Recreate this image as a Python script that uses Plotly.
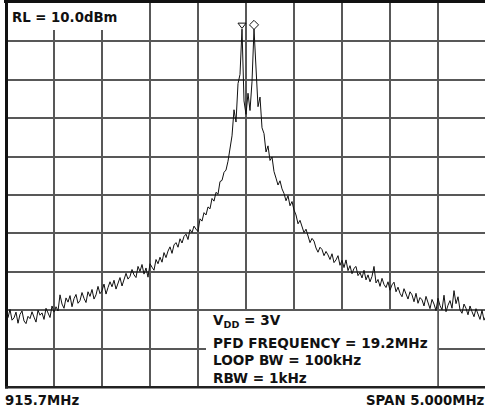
import numpy as np
import plotly.graph_objects as go

# Analyzer settings
CENTER_MHZ = 915.7
SPAN_MHZ = 5.0
REF_LEVEL_DBM = 10.0
DB_PER_DIV = 10
N_DIV = 10

# Swept trace, dBm, one reading per sweep point across the span
level_dbm = [
    # lower skirt / noise floor
    -70.4, -71.9, -69.8, -72.6, -72.0, -70.5, -73.4, -71.1, -70.2, -72.8,
    -73.5, -71.6, -72.2, -70.4, -71.8, -73.1, -70.0, -71.3, -70.7, -72.4,
    -69.5, -70.8, -71.9, -68.9, -70.5,
    -69.1, -70.2, -66.0, -68.4, -69.5, -66.8, -67.9, -66.2, -69.1, -67.0,
    -65.9, -68.2, -67.5, -65.4, -66.9, -68.0, -65.2, -66.4, -64.6, -67.1,
    -66.0, -63.8, -65.7, -64.9, -63.2, -65.8, -64.1, -62.6, -63.9, -62.2,
    -64.5, -62.9, -61.5, -63.7, -62.0, -60.4, -61.9,
    -61.2, -59.4, -60.8, -61.5, -58.6, -59.9, -58.1, -60.6, -59.0, -61.4,
    -57.9, -58.8, -59.6, -56.8, -57.9, -56.2, -57.5, -55.0, -56.3, -54.6,
    -53.5, -55.2, -53.0, -52.4, -53.6, -51.4, -52.5, -50.8, -50.2, -51.6,
    -49.0, -49.8, -48.1, -48.9, -49.5,
    # rising skirt
    -46.2, -46.8, -44.6, -45.2, -43.1, -43.6, -40.9, -41.6, -39.3, -39.8,
    -36.5, -36.2, -34.1, -33.5, -31.2, -28.4, -24.6, -17.8, -21.0, -11.0,
    -8.6,
    # carrier region
    3.2, -15.5, -19.0, -13.5, -18.0, -10.5, 3.2, -8.2,
    # falling skirt
    -17.0, -14.5, -22.5, -24.0, -28.8, -27.2, -31.0, -30.1, -33.9, -35.6,
    -37.4, -36.3, -38.4, -39.6, -41.5, -40.2, -42.8, -41.7, -43.9, -45.2,
    -47.5, -46.6, -48.2, -49.8, -48.9, -50.9, -52.4, -51.3, -52.0, -53.8,
    -54.9, -53.6, -54.2, -55.8, -54.7,
    -55.6, -56.8, -55.3, -57.6, -56.9, -55.8, -58.3, -57.0, -58.9, -56.9,
    -59.7, -58.4, -60.5, -59.1, -58.6, -61.0, -60.2, -61.6, -59.6, -62.1,
    -60.8, -62.6, -61.2, -58.6, -62.9, -62.0, -63.8, -61.7, -63.3, -64.1,
    -62.6, -64.8, -63.4, -62.7, -65.2,
    # upper noise floor
    -64.0, -65.6, -66.5, -64.4, -65.9, -67.1, -65.2, -66.0, -67.8, -65.6,
    -68.2, -66.7, -67.3, -68.9, -66.4, -67.8, -69.6, -67.2, -68.4, -70.1,
    -66.9, -68.8, -69.9, -66.1, -70.4, -68.7, -67.5, -69.5, -64.9, -68.3,
    -66.5, -69.9, -70.8, -68.4, -69.5, -71.2, -68.9, -70.4, -71.7, -69.6,
    -71.0, -72.4, -70.0, -72.6, -71.5,
]

# Marker positions (sweep point index) and their glyphs
marker_index = [118, 124]
marker_symbol = ["triangle-down-open", "diamond-open"]

info_lines = [
    "V<sub>DD</sub> = 3V",
    "PFD FREQUENCY = 19.2MHz",
    "LOOP BW = 100kHz",
    "RBW = 1kHz",
]

start_mhz = CENTER_MHZ - SPAN_MHZ / 2
step_mhz = SPAN_MHZ / (len(level_dbm) - 1)
freq_mhz = start_mhz + step_mhz * np.arange(len(level_dbm))

# Page geometry (pixels)
W, H = 485, 412
L, T, B = 6, 3, 25
PW = W - L          # graticule runs off the right edge of the page
PH = H - T - B
GRID_PX = 480       # full 10-division graticule width


def px_x(px):
    return (px - L) / PW


def px_y(py):
    return (H - B - py) / PH


fig = go.Figure()

fig.add_trace(go.Scatter(
    x=freq_mhz, y=level_dbm, mode="lines",
    line=dict(color="#111111", width=1),
    hoverinfo="skip", showlegend=False,
))

mk_x = [freq_mhz[i] for i in marker_index]
mk_y = [level_dbm[i] + 1.1 for i in marker_index]
fig.add_trace(go.Scatter(
    x=mk_x, y=mk_y, mode="markers",
    marker=dict(symbol=marker_symbol, size=7, color="#111111",
                line=dict(width=1, color="#111111")),
    hoverinfo="skip", showlegend=False,
))

grid = dict(showgrid=True, gridcolor="#585858", gridwidth=1.6,
            zeroline=False, showline=False, showticklabels=False, ticks="")

fig.update_xaxes(range=[start_mhz, start_mhz + SPAN_MHZ * PW / GRID_PX],
                 tick0=start_mhz, dtick=SPAN_MHZ / N_DIV, **grid)
fig.update_yaxes(range=[REF_LEVEL_DBM - DB_PER_DIV * N_DIV, REF_LEVEL_DBM],
                 dtick=DB_PER_DIV, **grid)

shapes = [
    # label panels
    dict(type="rect", xref="paper", yref="paper",
         x0=px_x(6), x1=px_x(149), y0=px_y(30), y1=px_y(3),
         fillcolor="white", line=dict(width=0), layer="above"),
    dict(type="rect", xref="paper", yref="paper",
         x0=px_x(206), x1=px_x(437.2), y0=px_y(386), y1=px_y(311),
         fillcolor="white", line=dict(width=0), layer="above"),
    # graticule frame
    dict(type="line", xref="paper", yref="paper",
         x0=px_x(4), x1=px_x(W), y0=px_y(1.5), y1=px_y(1.5),
         line=dict(color="#111111", width=3), layer="above"),
    dict(type="line", xref="paper", yref="paper",
         x0=px_x(6.5), x1=px_x(6.5), y0=px_y(388.5), y1=px_y(0),
         line=dict(color="#111111", width=3), layer="above"),
    dict(type="line", xref="paper", yref="paper",
         x0=px_x(5), x1=px_x(W), y0=px_y(387.2), y1=px_y(387.2),
         line=dict(color="#222222", width=2.5), layer="above"),
]

FONT = "DejaVu Sans"
txt = dict(family=FONT, size=13.3, color="#111111")

annotations = [
    dict(text=f"<b>RL = {REF_LEVEL_DBM:.1f}dBm</b>", x=px_x(10), y=px_y(17.5),
         xanchor="left", yanchor="middle", font=txt),
    dict(text=f"<b>{CENTER_MHZ:.1f}MHz</b>", x=px_x(3), y=px_y(400),
         xanchor="left", yanchor="middle", font=txt),
    dict(text=f"<b>SPAN {SPAN_MHZ:.3f}MHz</b>", x=px_x(487), y=px_y(400),
         xanchor="right", yanchor="middle", font=txt),
]
info_y = [321, 342.5, 360, 377.5]
for line, yy in zip(info_lines, info_y):
    annotations.append(dict(text=f"<b>{line}</b>", x=px_x(211), y=px_y(yy),
                            xanchor="left", yanchor="middle",
                            font=dict(family=FONT, size=13.6, color="#111111")))
for a in annotations:
    a.update(xref="paper", yref="paper", showarrow=False)

fig.update_layout(
    width=W, height=H, autosize=False,
    margin=dict(l=L, r=0, t=T, b=B, pad=0),
    paper_bgcolor="white", plot_bgcolor="white",
    shapes=shapes, annotations=annotations,
)

fig.write_html("out.html", include_plotlyjs=True, config={"displayModeBar": False})
